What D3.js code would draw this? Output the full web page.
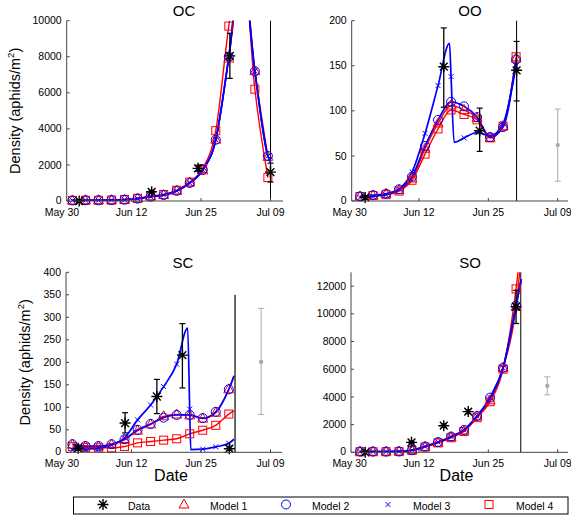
<!DOCTYPE html>
<html><head><meta charset="utf-8">
<script src="https://cdn.jsdelivr.net/npm/d3@7"></script>
<style>body{margin:0;background:#fff} text{font-family:"Liberation Sans",Arial,Helvetica,sans-serif;fill:#000}</style>
</head><body><svg id="c" width="571" height="517"></svg>
<script>
// ---------- shared axis data ----------
const xTickDays = [0, 40/3, 80/3, 40];            // days after May 30
const xTickLabels = ["May 30", "Jun 12", "Jun 25", "Jul 09"];
const markerDays = [2, 4.5, 7, 9.5, 12, 14.5, 17, 19.5, 22, 24.5, 27, 29.5, 32, 34.5, 37, 39.5];
const modelNames = ["Model 1", "Model 2", "Model 3", "Model 4"];

// ---------- OC ----------
const ocTicks = [0, 2000, 4000, 6000, 8000, 10000];
const ocModel1 = [30, 40, 40, 50, 70, 140, 250, 330, 570, 1020, 1700, 3400, 7900, 13000, 7200, 2450];
const ocModel2 = [30, 40, 40, 50, 70, 130, 240, 330, 560, 1000, 1720, 3400, 8000, 13200, 7200, 2500];
const ocModel3 = [30, 40, 40, 50, 70, 130, 240, 330, 560, 1000, 1720, 3400, 8000, 13200, 7200, 2500];
const ocModel4 = [30, 40, 40, 50, 80, 150, 280, 360, 600, 1050, 1800, 3900, 9700, 14000, 6200, 1300];
const ocExtra2 = [[40, 2150]];
const ocExtra3 = [[40, 2150]];
const ocDataDays = [3.3, 17.2, 26.1, 32.2, 40];
const ocDataVal  = [0, 510, 1810, 8050, 1600];
const ocDataLo   = [0, 430, 1650, 6800, 1050];
const ocDataHi   = [0, 600, 1980, 9300, 2100];
const ocVLine = [40, 0, 10000];

// ---------- OO ----------
const ooTicks = [0, 50, 100, 150, 200];
const ooModel1 = [5, 6, 8, 12, 25, 58, 86, 106, 101, 92, 70, 83, 158];
const ooModel2 = [5, 6.5, 8, 13, 27, 61, 90, 110, 105, 93, 71, 82, 157];
const ooModel3 = [4, 5, 7, 13, 32, 75, 128, 138, 70, 76, 72, 86, 150];
const ooModel4 = [5, 6, 7, 11, 23, 52, 80, 101, 96, 90, 70, 83, 160];
const ooExtra3 = [[19.2, 175], [20.1, 65]];
const ooDataDays = [3.0, 18.1, 25.0, 32.1];
const ooDataVal  = [4, 149, 78, 145];
const ooDataLo   = [2, 104, 55, 111];
const ooDataHi   = [6, 192, 103, 177];
const ooGray = [40, 62, 22, 102];
const ooVLine = [32.1, 0, 200];

// ---------- SC ----------
const scTicks = [0, 50, 100, 150, 200, 250, 300, 350, 400];
const scModel1 = [17, 13, 13, 17, 28, 48, 62, 80, 84, 82, 75, 88, 140];
const scModel2 = [18, 14, 14, 18, 29, 50, 63, 77, 83, 83, 76, 90, 140];
const scModel3 = [5, 7, 9, 16, 32, 72, 105, 146, 196, 96, 7, 12, 20];
const scModel4 = [13, 11, 10, 10, 13, 21, 24, 27, 30, 41, 49, 60, 85];
const scExtra1 = [[33, 168]];
const scExtra2 = [[33, 170]];
const scExtra3 = [[24.1, 276], [24.7, 6], [33, 29]];
const scExtra4 = [[33, 92]];
const scDataDays = [3.1, 12.1, 18.2, 23.1, 32.1];
const scDataVal  = [9, 65, 124, 216, 8];
const scDataLo   = [5, 43, 86, 143, 4];
const scDataHi   = [13, 88, 162, 286, 12];
const scGray = [38.2, 201, 84, 320];
const scVLine = [33.2, 0, 350];

// ---------- SO ----------
const soTicks = [0, 2000, 4000, 6000, 8000, 10000, 12000];
const soModel1 = [50, 50, 50, 60, 150, 390, 690, 1100, 1560, 2600, 3750, 6100, 10500];
const soModel2 = [50, 50, 50, 60, 150, 420, 740, 1130, 1620, 2620, 3950, 6100, 10600];
const soModel3 = [50, 50, 50, 60, 150, 420, 740, 1130, 1620, 2620, 3950, 6100, 10600];
const soModel4 = [40, 40, 40, 50, 140, 380, 680, 1050, 1500, 2500, 3650, 6000, 11800];
const soExtra1 = [[33, 14200]];
const soExtra2 = [[33, 12500]];
const soExtra3 = [[33, 12500]];
const soExtra4 = [[33, 15000]];
const soDataDays = [3.0, 11.9, 18.1, 22.8, 32.0];
const soDataVal  = [0, 720, 1920, 2940, 10520];
const soDataLo   = [0, 640, 1800, 2800, 9300];
const soDataHi   = [0, 800, 2050, 3080, 11700];
const soGray = [38, 4800, 4150, 5450];
const soVLine = [32.9, 0, 13000];

// ---------- build panels ----------
const panels = [
  {title:"OC", ymax:10000, ticks:ocTicks, models:[ocModel1,ocModel2,ocModel3,ocModel4], extras:[[],ocExtra2,ocExtra3,[]],
   data:[ocDataDays,ocDataVal,ocDataLo,ocDataHi], gray:null, vline:ocVLine, vcolor:"#000",
   box:{l:66.7,r:283,t:20.7,b:201,x0:62,x40:270.5}, titleX:184, titleY:16, ylab:true, ylabX:20, xlab:false},
  {title:"OO", ymax:200, ticks:ooTicks, models:[ooModel1,ooModel2,ooModel3,ooModel4], extras:[[],[],ooExtra3,[]],
   data:[ooDataDays,ooDataVal,ooDataLo,ooDataHi], gray:ooGray, vline:ooVLine, vcolor:"#000",
   box:{l:351.7,r:568,t:20.7,b:201,x0:349.6,x40:557.7}, titleX:470, titleY:16, ylab:false, xlab:false},
  {title:"SC", ymax:400, ticks:scTicks, models:[scModel1,scModel2,scModel3,scModel4], extras:[scExtra1,scExtra2,scExtra3,scExtra4],
   data:[scDataDays,scDataVal,scDataLo,scDataHi], gray:scGray, vline:scVLine, vcolor:"#444",
   box:{l:66,r:282,t:272.3,b:452.3,x0:62,x40:270.5}, titleX:183, titleY:268, ylab:true, ylabX:30, xlab:true},
  {title:"SO", ymax:13000, ticks:soTicks, models:[soModel1,soModel2,soModel3,soModel4], extras:[soExtra1,soExtra2,soExtra3,soExtra4],
   data:[soDataDays,soDataVal,soDataLo,soDataHi], gray:soGray, vline:soVLine, vcolor:"#000",
   box:{l:351,r:568,t:272.3,b:452.3,x0:349.6,x40:557.7}, titleX:470, titleY:268, ylab:false, xlab:true}
];

const modelColor = ["#ff0000", "#0000ff", "#0000ff", "#ff0000"];
const modelShape = ["tri", "circ", "x", "sq"];

const svg = d3.select("#c");

function starPath(s){ const a=s*0.7071;
  return `M${-s},0L${s},0M0,${-s}L0,${s}M${-a},${-a}L${a},${a}M${-a},${a}L${a},${-a}`; }
function drawMarker(g, shape, color, x, y){
  if(shape==="tri") g.append("path").attr("d","M0,-5.5L5,3.5L-5,3.5Z").attr("transform",`translate(${x},${y})`)
      .attr("fill","none").attr("stroke",color).attr("stroke-width",1);
  else if(shape==="circ") g.append("circle").attr("cx",x).attr("cy",y).attr("r",4.5)
      .attr("fill","none").attr("stroke",color).attr("stroke-width",1);
  else if(shape==="x") g.append("path").attr("d","M-2.5,-2.5L2.5,2.5M-2.5,2.5L2.5,-2.5").attr("transform",`translate(${x},${y})`)
      .attr("fill","none").attr("stroke",color).attr("stroke-width",1);
  else if(shape==="sq") g.append("rect").attr("x",x-4).attr("y",y-4).attr("width",8).attr("height",8)
      .attr("fill","none").attr("stroke",color).attr("stroke-width",1);
  else if(shape==="star") g.append("path").attr("d",starPath(5.5)).attr("transform",`translate(${x},${y})`)
      .attr("fill","none").attr("stroke","#000").attr("stroke-width",1.4);
}

panels.forEach((p, pi) => {
  const B = p.box;
  const x = d3.scaleLinear().domain([0, 40]).range([B.x0, B.x40]);
  const y = d3.scaleLinear().domain([0, p.ymax]).range([B.b, B.t]);
  const g = svg.append("g");
  const clipId = "clip" + pi;
  svg.append("clipPath").attr("id", clipId).append("rect")
    .attr("x", B.l).attr("y", B.t).attr("width", B.r - B.l).attr("height", B.b - B.t);

  // vertical reference line
  g.append("line").attr("x1", x(p.vline[0])).attr("x2", x(p.vline[0]))
    .attr("y1", y(p.vline[1])).attr("y2", y(p.vline[2]))
    .attr("stroke", p.vcolor).attr("stroke-width", p.vcolor==="#000"?1:1.6);

  // gray point
  if (p.gray) {
    const gx = x(p.gray[0]);
    g.append("line").attr("x1",gx).attr("x2",gx).attr("y1",y(p.gray[2])).attr("y2",y(p.gray[3]))
      .attr("stroke","#aaa").attr("stroke-width",1);
    [p.gray[2], p.gray[3]].forEach(v => g.append("line").attr("x1",gx-3).attr("x2",gx+3)
      .attr("y1",y(v)).attr("y2",y(v)).attr("stroke","#aaa").attr("stroke-width",1));
    g.append("circle").attr("cx",gx).attr("cy",y(p.gray[1])).attr("r",2.2).attr("fill","#aaa");
  }

  // lines (red first, then blue)
  const line = d3.line().x(d => x(d[0])).y(d => y(d[1])).curve(d3.curveMonotoneX);
  const lg = g.append("g").attr("clip-path", `url(#${clipId})`);
  [0, 3, 1, 2].forEach(mi => {
    const pts = p.models[mi].map((v, i) => [markerDays[i], v]).concat(p.extras[mi]).sort((a, b) => a[0] - b[0]);
    lg.append("path").attr("d", line(pts)).attr("fill", "none")
      .attr("stroke", modelColor[mi]).attr("stroke-width", mi===1||mi===2 ? 1.7 : 1.4)
      .attr("stroke-linejoin","round");
  });
  // markers
  const mg = g.append("g");
  [0, 3, 1, 2].forEach(mi => {
    p.models[mi].forEach((v, i) => {
      if (v <= p.ymax) drawMarker(mg, modelShape[mi], modelColor[mi], x(markerDays[i]), y(v));
    });
  });
  // data with error bars
  const [dd, dv, dlo, dhi] = p.data;
  dd.forEach((d, i) => {
    const cx = x(d);
    if (dhi[i] > dlo[i]) {
      g.append("line").attr("x1",cx).attr("x2",cx).attr("y1",y(dlo[i])).attr("y2",y(dhi[i]))
        .attr("stroke","#000").attr("stroke-width",1.3);
      [dlo[i], dhi[i]].forEach(v => g.append("line").attr("x1",cx-3).attr("x2",cx+3)
        .attr("y1",y(v)).attr("y2",y(v)).attr("stroke","#000").attr("stroke-width",1.2));
    }
    drawMarker(g, "star", "#000", cx, y(dv[i]));
  });

  // axes
  g.append("line").attr("x1",B.l).attr("x2",B.l).attr("y1",B.t).attr("y2",B.b).attr("stroke","#444").attr("stroke-width",1);
  g.append("line").attr("x1",B.l).attr("x2",B.r).attr("y1",B.b).attr("y2",B.b).attr("stroke","#444").attr("stroke-width",1);
  p.ticks.forEach(t => {
    g.append("line").attr("x1",B.l).attr("x2",B.l+3).attr("y1",y(t)).attr("y2",y(t)).attr("stroke","#444");
    g.append("text").attr("x",B.l-5).attr("y",y(t)+(t===0?2.5:3.6)).attr("text-anchor","end")
      .attr("font-size",10.5).text(d3.format("d")(t));
  });
  xTickDays.forEach((t, i) => {
    if (x(t) > B.l + 1) g.append("line").attr("x1",x(t)).attr("x2",x(t)).attr("y1",B.b).attr("y2",B.b-3).attr("stroke","#444");
    g.append("text").attr("x",x(t)).attr("y",B.b+14.5).attr("text-anchor","middle")
      .attr("font-size",10.5).text(xTickLabels[i]);
  });

  // titles & labels
  g.append("text").attr("x",p.titleX).attr("y",p.titleY).attr("text-anchor","middle")
    .attr("font-size",15).text(p.title);
  if (p.ylab) {
    const yt = g.append("text").attr("transform",`translate(${p.ylabX},${(B.t+B.b)/2}) rotate(-90)`)
      .attr("text-anchor","middle").attr("font-size",14.5);
    yt.append("tspan").text("Density (aphids/m");
    yt.append("tspan").attr("font-size",9.5).attr("dy",-6).text("2");
    yt.append("tspan").attr("dy",6).text(")");
  }
  if (p.xlab) {
    g.append("text").attr("x",(B.l+B.r)/2 - 3).attr("y",481).attr("text-anchor","middle")
      .attr("font-size",16).text("Date");
  }
});

// ---------- legend ----------
const legendLabels = ["Data"].concat(modelNames);
const legendShapes = ["star"].concat(modelShape);
const legendColors = ["#000"].concat(modelColor);
const legendMarkX = [103, 184, 286, 388, 489];
const legendTextX = [128, 210, 312, 413, 516];
const lg = svg.append("g");
lg.append("rect").attr("x",73.5).attr("y",497).attr("width",494.5).attr("height",17)
  .attr("fill","#fff").attr("stroke","#000").attr("stroke-width",1);
legendLabels.forEach((l, i) => {
  drawMarker(lg, legendShapes[i], legendColors[i], legendMarkX[i], 504.5);
  lg.append("text").attr("x",legendTextX[i]).attr("y",509.5).attr("font-size",10.5).text(l);
});
</script>
</body></html>
